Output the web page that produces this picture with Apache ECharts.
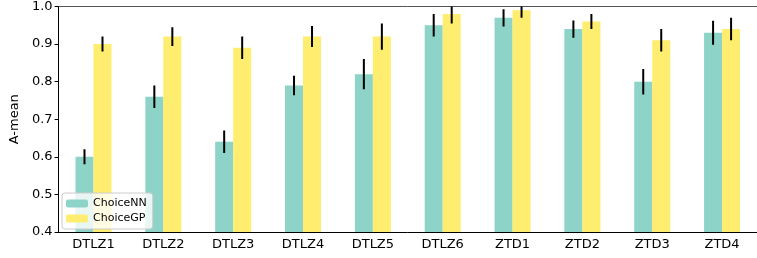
<!DOCTYPE html>
<html>
<head>
<meta charset="utf-8">
<script src="https://cdn.jsdelivr.net/npm/echarts@6/dist/echarts.min.js"></script>
<style>
  html, body { margin: 0; padding: 0; background: #fff; }
  #chart { width: 757px; height: 258px; }
</style>
</head>
<body>
<div id="chart"></div>
<script>
// problems on the x axis
var problems = ['DTLZ1', 'DTLZ2', 'DTLZ3', 'DTLZ4', 'DTLZ5', 'DTLZ6', 'ZTD1', 'ZTD2', 'ZTD3', 'ZTD4'];
// mean values
var nnMean = [0.60, 0.76, 0.64, 0.79, 0.82, 0.95, 0.97, 0.94, 0.80, 0.93];
var gpMean = [0.90, 0.92, 0.89, 0.92, 0.92, 0.98, 0.99, 0.96, 0.91, 0.94];
// half length of the error bars
var nnErr = [0.02, 0.03, 0.03, 0.026, 0.04, 0.03, 0.023, 0.023, 0.034, 0.032];
var gpErr = [0.02, 0.025, 0.03, 0.028, 0.035, 0.025, 0.02, 0.02, 0.03, 0.03];
var yTicks = [0.4, 0.5, 0.6, 0.7, 0.8, 0.9, 1.0];

var chart = echarts.init(document.getElementById('chart'), null, { renderer: 'canvas' });

var FONT = 'DejaVu Sans';
var BAR_W = 18;

// error bar series, shifted to the middle of its bar
function errSeries(mean, err, shift) {
  var data = mean.map(function (m, i) { return [i, m - err[i], m + err[i]]; });
  return {
    type: 'custom',
    clip: true,
    z: 5,
    silent: true,
    data: data,
    encode: { x: 0, y: [1, 2] },
    renderItem: function (params, api) {
      var lo = api.coord([api.value(0), api.value(1)]);
      var hi = api.coord([api.value(0), api.value(2)]);
      var x = lo[0] + shift;
      return {
        type: 'line',
        shape: { x1: x, y1: lo[1], x2: x, y2: hi[1] },
        style: { stroke: '#000', lineWidth: 2 }
      };
    }
  };
}

var option = {
  animation: false,
  grid: { left: 57, top: 4, bottom: 26, width: 703 },
  legend: {
    orient: 'vertical',
    left: 62,
    top: 193,
    data: ['ChoiceNN', 'ChoiceGP'],
    itemWidth: 22,
    itemHeight: 8,
    itemGap: 4,
    padding: [5, 6, 5, 4],
    backgroundColor: 'rgba(255,255,255,0.8)',
    borderColor: '#ccc',
    borderWidth: 1,
    borderRadius: 3,
    textStyle: { fontFamily: FONT, fontSize: 11, color: '#000' }
  },
  xAxis: [{
    type: 'category',
    data: problems,
    axisLine: { lineStyle: { color: '#000', width: 1 } },
    axisTick: { alignWithLabel: true, length: 4, lineStyle: { color: '#000' } },
    axisLabel: { fontFamily: FONT, fontSize: 13, color: '#000', margin: 6 }
  }, {
    type: 'category',
    position: 'top',
    data: problems,
    axisLine: { lineStyle: { color: '#555', width: 1 } },
    axisTick: { show: false },
    axisLabel: { show: false }
  }],
  yAxis: {
    type: 'value',
    min: 0.4,
    max: 1.0,
    interval: 0.1,
    name: 'A-mean',
    nameLocation: 'middle',
    nameGap: 32,
    nameTextStyle: { fontFamily: FONT, fontSize: 13, color: '#000' },
    axisLine: { show: true, lineStyle: { color: '#000', width: 1 } },
    axisTick: { show: true, length: 4, lineStyle: { color: '#000' } },
    splitLine: { show: false },
    axisLabel: {
      fontFamily: FONT, fontSize: 13, color: '#000', margin: 6,
      formatter: function (v) {
        var t = yTicks.filter(function (k) { return Math.abs(k - v) < 1e-6; });
        return t.length ? t[0].toFixed(1) : '';
      }
    }
  },
  series: [{
    name: 'ChoiceNN',
    type: 'bar',
    data: nnMean,
    barWidth: BAR_W,
    barGap: '0%',
    itemStyle: { color: '#8dd3c7' }
  }, {
    name: 'ChoiceGP',
    type: 'bar',
    data: gpMean,
    barWidth: BAR_W,
    barGap: '0%',
    itemStyle: { color: '#ffed6f' }
  },
  errSeries(nnMean, nnErr, -BAR_W / 2),
  errSeries(gpMean, gpErr, BAR_W / 2)
  ]
};

chart.setOption(option);
</script>
</body>
</html>
